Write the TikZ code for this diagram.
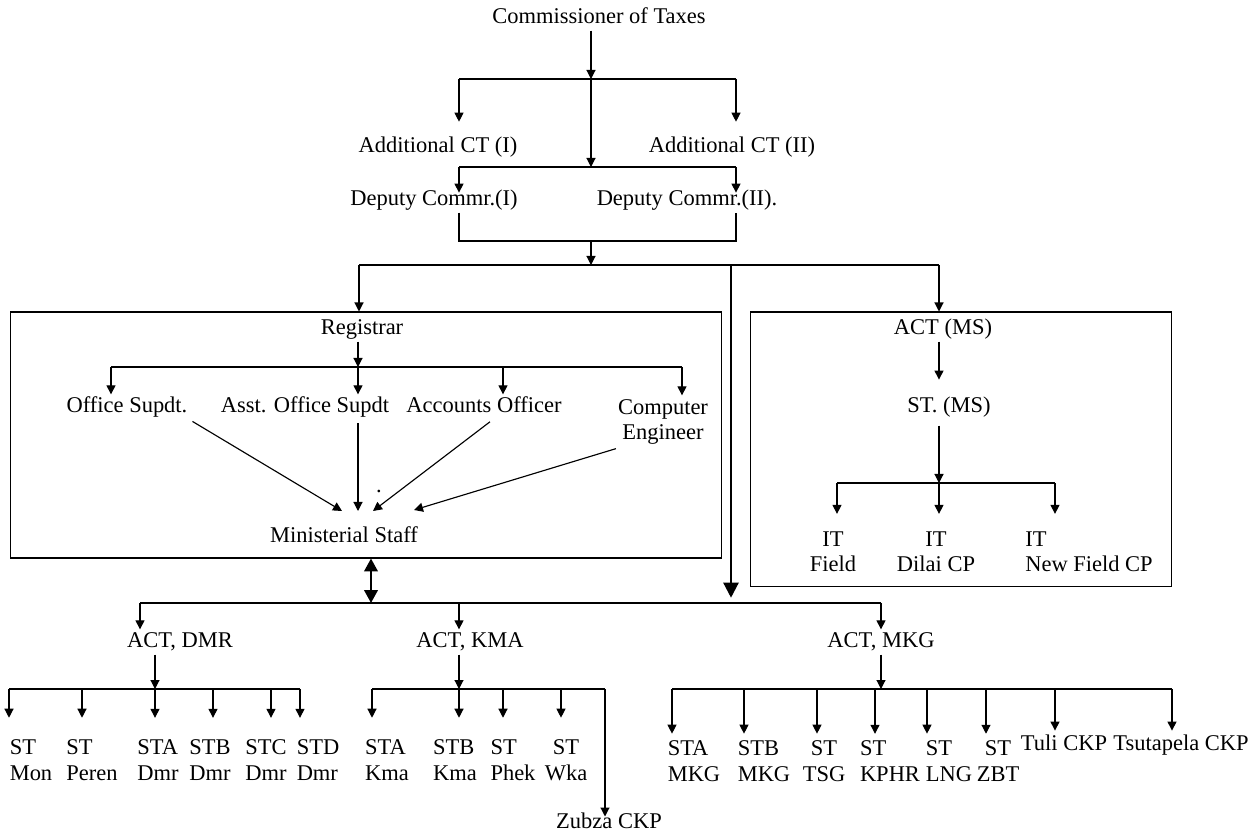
\documentclass[tikz,border=0pt]{standalone}
\usepackage{fontspec}
\setmainfont{Liberation Serif}
\usetikzlibrary{arrows.meta}

\tikzset{
  nd/.style={inner sep=1pt},
  lbl/.style={nd, text height=9pt, text depth=3pt},
  two/.style={nd, align=left},
  lowrow/.style={two, inner ysep=12.3pt},
  mkgrow/.style={two, inner ysep=3.8pt},
  box/.style={draw, line width=0.6pt, inner sep=0pt},
  ln/.style={line width=0.65pt},
  arr/.style={ln, -{Triangle[length=1.8mm,width=1.8mm]}},
  thickarr/.style={line width=1.3pt, -{Triangle[length=3mm,width=3mm]}},
  dblarr/.style={line width=1.4pt, {Triangle[length=2.6mm,width=2.7mm]}-{Triangle[length=2.6mm,width=2.7mm]}}
}

\begin{document}
\begin{tikzpicture}[x=0.02cm, y=-0.02cm, font=\fontsize{12.8pt}{14.5pt}\selectfont]
\useasboundingbox (0,0) rectangle (1259,834);

% top of the chart
\node[lbl] (ct) at (599,18) {Commissioner of Taxes};
\node[lbl, inner ysep=8.2pt] (adc1) at (438,147) {Additional CT (I)};
\node[lbl, inner ysep=8.2pt] (adc2) at (732,147) {Additional CT (II)};
\node[lbl] (dc1) at (434,200) {Deputy Commr.(I)};
\node[lbl] (dc2) at (687,200) {Deputy Commr.(II).};

\coordinate (b1w) at (459,79); \coordinate (b1m) at (591,79); \coordinate (b1e) at (736,79);
\coordinate (b2w) at (459,167); \coordinate (b2m) at (591,167); \coordinate (b2e) at (736,167);
\coordinate (b3w) at (459,241); \coordinate (b3m) at (591,241); \coordinate (b3e) at (736,241);
\coordinate (b4w) at (359,265); \coordinate (b4m) at (591,265); \coordinate (b4t) at (731,265); \coordinate (b4e) at (939,265);

\draw[arr] (ct.south -| b1m) -- (b1m);
\draw[ln] (b1w) -- (b1e);
\draw[arr] (b1w) -- (b1w |- adc1.north);
\draw[arr] (b1e) -- (b1e |- adc2.north);
\draw[arr] (b1m) -- (b2m);
\draw[ln] (b2w) -- (b2e);
\draw[arr, shorten >=-3pt] (b2w) -- (b2w |- dc1.north);
\draw[arr, shorten >=-3pt] (b2e) -- (b2e |- dc2.north);
\draw[ln] (dc1.south -| b3w) -- (b3w) -- (b3e) -- (dc2.south -| b3e);
\draw[arr] (b3m) -- (b4m);

% registrar box
\node[box, minimum width=14.24cm, minimum height=4.92cm] (regbox) at (366,435) {};
\node[lbl] (reg) at (362,329) {Registrar};
\node[lbl] (os) at (127,407) {Office Supdt.};
\node[lbl] (aos) at (305,407) {Asst. Office Supdt};
\node[lbl] (ao) at (484,407) {Accounts Officer};
\node[two, align=center, inner ysep=2.1pt] (ce) at (663,422) {Computer\\Engineer};
\node[lbl] (ms) at (344,537) {Ministerial Staff};
\node[lbl] (dot) at (379,487) {.};

\coordinate (r1w) at (111,367); \coordinate (r1m) at (358,367); \coordinate (r1e) at (682,367);
\draw[arr] (reg.south -| r1m) -- (r1m);
\draw[ln] (r1w) -- (r1e);
\foreach \x/\n in {111/os, 358/aos, 503/ao, 682/ce}{
  \coordinate (tmp) at (\x,367);
  \draw[arr] (tmp) -- (tmp |- \n.north);
}

\coordinate (ms1) at (342,511); \coordinate (ms2) at (358,511);
\coordinate (ms3) at (373,511); \coordinate (ms4) at (414,510);
\draw[arr, shorten <=2pt] (os.south east) -- (ms1);
\draw[arr, shorten <=2pt] (aos.south -| ms2) -- (ms2);
\draw[arr, shorten <=2pt] ([xshift=5pt]ao.south) -- (ms3);
\draw[arr] (ce.south west) -- (ms4);

% MS box
\node[box, minimum width=8.44cm, minimum height=5.5cm] (msbox) at (961,449.5) {};
\node[lbl] (actms) at (943,329) {ACT (MS)};
\node[lbl, inner ysep=9.4pt] (stms) at (949,407) {ST. (MS)};
\node[two, align=center, inner ysep=10pt] (itf) at (833,552) {IT\\Field};
\node[two, align=center, inner ysep=10pt] (itd) at (936,552) {IT\\Dilai CP};
\node[two, inner ysep=10pt] (itn) at (1089,552) {IT\\New Field CP};

\coordinate (s1w) at (837,483); \coordinate (s1m) at (939,483); \coordinate (s1e) at (1055,483);
\draw[arr] (actms.south -| s1m) -- (s1m |- stms.north);
\draw[arr, shorten <=-5pt] (stms.south -| s1m) -- (s1m);
\draw[ln] (s1w) -- (s1e);
\foreach \x/\n in {837/itf, 939/itd, 1055/itn}{
  \coordinate (tmp) at (\x,483);
  \draw[arr] (tmp) -- (tmp |- \n.north);
}

\draw[ln] (b4w) -- (b4e);
\draw[arr] (b4w) -- (b4w |- regbox.north);
\draw[arr] (b4e) -- (b4e |- msbox.north);

% lower level
\coordinate (b5w) at (140,603); \coordinate (b5d) at (371,603);
\coordinate (b5k) at (459,603); \coordinate (b5e) at (881,603);
\draw[thickarr, shorten >=3pt] (b4t) -- (b4t |- b5w);
\draw[dblarr] (b5d |- regbox.south) -- (b5d);

\node[lbl] (actdmr) at (180,642) {ACT, DMR};
\node[lbl] (actkma) at (470,642) {ACT, KMA};
\node[lbl] (actmkg) at (881,642) {ACT, MKG};
\draw[ln] (b5w) -- (b5e);
\draw[arr] (b5w) -- (b5w |- actdmr.north);
\draw[arr] (b5k) -- (b5k |- actkma.north);
\draw[arr] (b5e) -- (b5e |- actmkg.north);

% DMR
\node[lowrow] (stmon) at (31,760) {ST\\Mon};
\node[lowrow] (stper) at (92,760) {ST\\Peren};
\node[lowrow] (stadmr) at (158,760) {STA\\Dmr};
\node[lowrow] (stbdmr) at (210,760) {STB\\Dmr};
\node[lowrow] (stcdmr) at (266,760) {STC\\Dmr};
\node[lowrow] (stddmr) at (318,760) {STD\\Dmr};
\coordinate (d1w) at (9,689); \coordinate (d1m) at (155,689); \coordinate (d1e) at (300,689);
\draw[arr] (actdmr.south -| d1m) -- (d1m);
\draw[ln] (d1w) -- (d1e);
\foreach \x/\n in {9/stmon, 82/stper, 155/stadmr, 213/stbdmr, 271/stcdmr, 300/stddmr}{
  \coordinate (tmp) at (\x,689);
  \draw[arr] (tmp) -- (tmp |- \n.north);
}

% KMA
\node[lowrow] (stakma) at (387,760) {STA\\Kma};
\node[lowrow] (stbkma) at (455,760) {STB\\Kma};
\node[lowrow] (stphek) at (513,760) {ST\\Phek};
\node[lowrow, align=center] (stwka) at (566,760) {ST\\Wka};
\node[lbl] (zubza) at (609,823) {Zubza CKP};
\coordinate (k1w) at (372,689); \coordinate (k1m) at (459,689); \coordinate (k1e) at (605,689);
\draw[arr] (actkma.south -| k1m) -- (k1m);
\draw[ln] (k1w) -- (k1e);
\foreach \x/\n in {372/stakma, 459/stbkma, 503/stphek, 561/stwka}{
  \coordinate (tmp) at (\x,689);
  \draw[arr] (tmp) -- (tmp |- \n.north);
}
\draw[arr, shorten >=-3.5pt] (k1e) -- (k1e |- zubza.north);

% MKG
\node[mkgrow] (stamkg) at (694,761) {STA\\MKG};
\node[mkgrow] (stbmkg) at (764,761) {STB\\MKG};
\node[mkgrow, align=center] (sttsg) at (824,761) {ST\\TSG};
\node[mkgrow] (stkphr) at (890,761) {ST\\KPHR};
\node[mkgrow] (stlng) at (949,761) {ST\\LNG};
\node[mkgrow, align=center] (stzbt) at (998,761) {ST\\ZBT};
\node[lbl, inner ysep=2pt] (tuli) at (1064,745) {Tuli CKP};
\node[lbl, inner ysep=2pt] (tsut) at (1181,745) {Tsutapela CKP};
\coordinate (g1w) at (672,689); \coordinate (g1m) at (881,689); \coordinate (g1e) at (1172,689);
\draw[arr] (actmkg.south -| g1m) -- (g1m);
\draw[ln] (g1w) -- (g1e);
\foreach \x/\n in {672/stamkg, 744/stbmkg, 817/sttsg, 875/stkphr, 927/stlng, 986/stzbt, 1055/tuli, 1172/tsut}{
  \coordinate (tmp) at (\x,689);
  \draw[arr] (tmp) -- (tmp |- \n.north);
}

\end{tikzpicture}
\end{document}
